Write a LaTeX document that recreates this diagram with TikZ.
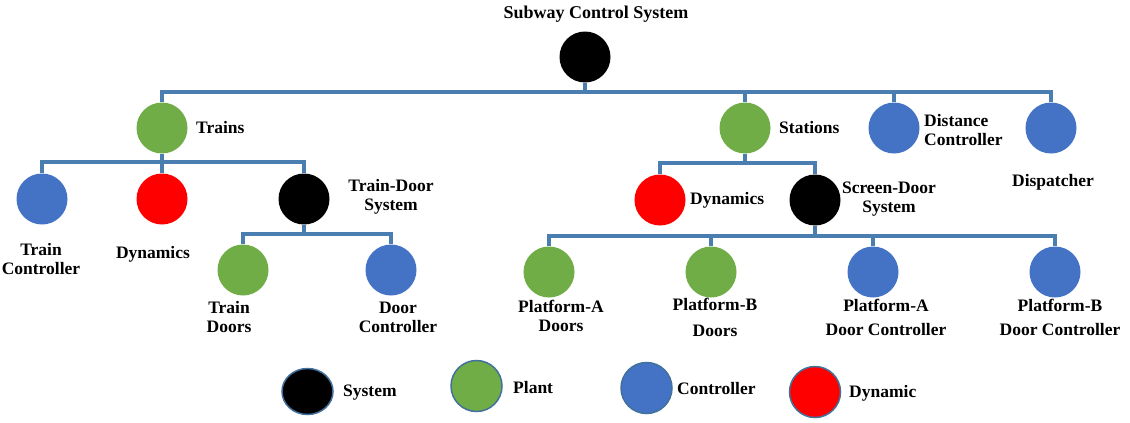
\documentclass[tikz,border=0pt]{standalone}
\usepackage{fontspec}
\setmainfont{Liberation Serif}
\usetikzlibrary{positioning,shapes.geometric}

\definecolor{sysblack}{HTML}{000000}
\definecolor{plantgreen}{HTML}{70AD47}
\definecolor{ctlblue}{HTML}{4472C4}
\definecolor{dynred}{HTML}{FF0000}
\definecolor{linkblue}{HTML}{4A7DB0}
\definecolor{rimblue}{HTML}{41719C}

\begin{document}
\begin{tikzpicture}[
  x=1pt, y=-1pt,
  font=\fontsize{17.5}{19}\selectfont\bfseries,
  comp/.style   ={circle, minimum size=51pt, inner sep=0pt},
  sysnode/.style={comp, fill=sysblack},
  plant/.style  ={comp, fill=plantgreen},
  ctl/.style    ={comp, fill=ctlblue},
  dyn/.style    ={comp, fill=dynred},
  legend/.style ={draw=rimblue, line width=1.5pt},
  txt/.style    ={inner sep=0pt, align=center},
  link/.style   ={draw=linkblue, line width=3.2pt}
]

\fill[white] (0,0) rectangle (1130,423);
\useasboundingbox (0,0) rectangle (1130,423);

% =================== ROOT ===================
\node[txt, font=\fontsize{18}{20}\selectfont\bfseries] (title) at (596,14) {Subway Control System};
\node[sysnode] (sys) at (585,57) {};

% =================== LEVEL 1 ===================
\node[plant] (trains)   at ( 162,128) {};
\node[plant] (stations) at ( 745,128) {};
\node[ctl]   (distctl)  at ( 894,128) {};
\node[ctl]   (dispatch) at (1051,128) {};

\node[txt, anchor=west] (trainslbl)   at (196,128) {Trains};
\node[txt, anchor=west] (stationslbl) at (779,128) {Stations};
\node[txt, anchor=west, align=left] (distctllbl) at (924,130) {Distance\\Controller};
\node[txt] (dispatchlbl) at (1053,182) {Dispatcher};

% =================== TRAINS ===================
\node[ctl]     (trainctl) at ( 42,199) {};
\node[dyn]     (traindyn) at (162,199) {};
\node[sysnode] (tdsys)    at (304,199) {};

\node[txt] (trainctllbl) at ( 41,259) {Train\\Controller};
\node[txt] (traindynlbl) at (153,254) {Dynamics};
\node[txt] (tdsyslbl)    at (391,197) {Train-Door\\System};

\node[plant] (traindoors) at (243,270) {};
\node[ctl]   (doorctl)    at (391,270) {};

\node[txt] (traindoorslbl) at (229,317) {Train\\Doors};
\node[txt] (doorctllbl)    at (398,317) {Door\\Controller};

% =================== STATIONS ===================
\node[dyn]     (stdyn) at (660,200) {};
\node[sysnode] (sdsys) at (815,200) {};

\node[txt, anchor=west] (stdynlbl) at (690,200) {Dynamics};
\node[txt] (sdsyslbl) at (889,199) {Screen-Door\\System};

\node[plant] (padoors)   at ( 549,272) {};
\node[plant] (pbdoors)   at ( 711,272) {};
\node[ctl]   (padoorctl) at ( 873,272) {};
\node[ctl]   (pbdoorctl) at (1055,272) {};

\node[txt] (padoorslbl)   at ( 561,316) {Platform-A\\Doors};
\node[txt] (pbdoorslbl)   at ( 715,317) {Platform-B\\[7pt]Doors};
\node[txt] (padoorctllbl) at ( 886,317) {Platform-A\\[5pt]Door Controller};
\node[txt] (pbdoorctllbl) at (1060,317) {Platform-B\\[5pt]Door Controller};

% =================== LEGEND ===================
\node[ellipse, fill=sysblack, inner sep=0pt, legend, minimum width=51pt, minimum height=46pt] (legsys) at (307.5,391.5) {};
\node[plant, legend] (legplant) at (476.5,386) {};
\node[ctl,   legend] (legctl)   at (646.5,388) {};
\node[dyn,   legend] (legdyn)   at (815,392) {};

\node[txt, anchor=west] (legsyslbl)   at (343,393) {System};
\node[txt, anchor=west] (legplantlbl) at (513,388) {Plant};
\node[txt, anchor=west] (legctllbl)   at (677,389) {Controller};
\node[txt, anchor=west] (legdynlbl)   at (849,393) {Dynamic};

% =================== CONNECTORS ===================
\coordinate (bus0) at (585,92);
\coordinate (bus1) at (162,162);
\coordinate (bus2) at (304,234);
\coordinate (bus3) at (745,163);
\coordinate (bus4) at (815,236);

% root
\draw[link] (sys.south) -- (bus0);
\draw[link] (bus0) -| (trains.north);
\draw[link] (bus0) -| (stations.north);
\draw[link] (bus0) -| (distctl.north);
\draw[link] (bus0) -| (dispatch.north);

% trains
\draw[link] (trains.south) -- (bus1);
\draw[link] (bus1) -| (trainctl.north);
\draw[link] (bus1) -- (traindyn.north);
\draw[link] (bus1) -| (tdsys.north);

% train-door system
\draw[link] (tdsys.south) -- (bus2);
\draw[link] (bus2) -| (traindoors.north);
\draw[link] (bus2) -| (doorctl.north);

% stations
\draw[link] (stations.south) -- (bus3);
\draw[link] (bus3) -| (stdyn.north);
\draw[link] (bus3) -| (sdsys.north);

% screen-door system
\draw[link] (sdsys.south) -- (bus4);
\draw[link] (bus4) -| (padoors.north);
\draw[link] (bus4) -| (pbdoors.north);
\draw[link] (bus4) -| (padoorctl.north);
\draw[link] (bus4) -| (pbdoorctl.north);

\end{tikzpicture}
\end{document}
